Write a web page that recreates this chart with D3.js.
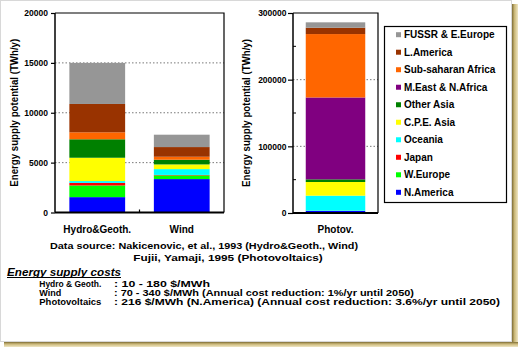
<!DOCTYPE html>
<html><head><meta charset="utf-8">
<script src="https://cdn.jsdelivr.net/npm/d3@7"></script>
<style>
html,body{margin:0;padding:0;background:#fff;}
svg{display:block;font-family:"Liberation Sans",Arial,Helvetica,sans-serif;}
</style></head>
<body><svg id="c" width="520" height="350"></svg>
<script>
const regions = ["N.America","W.Europe","Japan","Oceania","C.P.E. Asia","Other Asia","M.East & N.Africa","Sub-saharan Africa","L.America","FUSSR & E.Europe"];
const colors = ["#0000ff","#00ff00","#ff0000","#00ffff","#ffff00","#008000","#800080","#ff6600","#993300","#969696"];
const leftCats = ["Hydro&Geoth.","Wind"];
const hydro = [1540,1170,260,180,2340,1850,0,700,2840,4120];
const wind = [3350,370,50,580,470,470,0,300,970,1240];
const pvCats = ["Photov."];
const photov = [3000,300,200,22500,20500,4000,122800,95100,9500,8100];
const leftTicks = [0,5000,10000,15000,20000];
const pvTicks = [0,100000,200000,300000];
const pvMinor = [50000,150000,250000];
const yLabel = "Energy supply potential (TWh/y)";
const sourceLines = ["Data source:  Nakicenovic, et al., 1993  (Hydro&Geoth., Wind)","Fujii, Yamaji, 1995 (Photovoltaics)"];
const costTitle = "Energy supply costs";
const costNames = ["Hydro & Geoth.","Wind","Photovoltaics"];
const costVals = [": 10 - 180 $/MWh",": 70 - 340 $/MWh  (Annual cost reduction: 1%/yr until 2050)",": 216 $/MWh (N.America)  (Annual cost reduction: 3.6%/yr until 2050)"];

const svg = d3.select("#c");
const defs = svg.append("defs");
const gv = defs.append("linearGradient").attr("id","gv").attr("x1","0").attr("x2","1").attr("y1","0").attr("y2","0");
gv.append("stop").attr("offset","0").attr("stop-color","#7d6c35");
gv.append("stop").attr("offset","0.4").attr("stop-color","#c9b676");
gv.append("stop").attr("offset","1").attr("stop-color","#efe6c4");
const gh = defs.append("linearGradient").attr("id","gh").attr("x1","0").attr("x2","0").attr("y1","0").attr("y2","1");
gh.append("stop").attr("offset","0").attr("stop-color","#7d6c35");
gh.append("stop").attr("offset","0.4").attr("stop-color","#c9b676");
gh.append("stop").attr("offset","1").attr("stop-color","#efe6c4");

// frame shadow
svg.append("rect").attr("x",512).attr("y",4).attr("width",6).attr("height",343).attr("fill","url(#gv)");
svg.append("rect").attr("x",4).attr("y",342).attr("width",514).attr("height",5).attr("fill","url(#gh)");
svg.append("rect").attr("x",0.5).attr("y",0.5).attr("width",511).attr("height",341).attr("fill","#fff").attr("stroke","#d8d8d8");

function stackData(vals){
  let acc=0; return vals.map((v,i)=>{const d={i,y0:acc,y1:acc+v}; acc+=v; return d;});
}

function drawPanel(opts){
  const {x0,x1,yTop,yBot,domainMax,cats,series,ticks,minor,tickSize,tickPad,labelX} = opts;
  const y = d3.scaleLinear().domain([0,domainMax]).range([yBot,yTop]);
  const x = d3.scaleBand().domain(cats).range([x0,x1]).paddingInner(opts.pi).paddingOuter(opts.po);
  const g = svg.append("g");
  g.selectAll("line.grid").data(ticks.filter(t=>t>0 && t<domainMax)).join("line")
    .attr("x1",x0).attr("x2",x1).attr("y1",d=>y(d)).attr("y2",d=>y(d))
    .attr("stroke","#555").attr("stroke-width",0.8).attr("stroke-dasharray","1.5,2");
  cats.forEach((c,ci)=>{
    g.append("g").selectAll("rect").data(stackData(series[ci]).filter(d=>d.y1>d.y0)).join("rect")
      .attr("x",x(c)).attr("width",x.bandwidth())
      .attr("y",d=>y(d.y1)).attr("height",d=>y(d.y0)-y(d.y1))
      .attr("fill",d=>colors[d.i]);
  });
  g.append("path").attr("d",`M${x0},${yTop}H${x1}V${yBot}`).attr("fill","none").attr("stroke","#000").attr("stroke-width",1.2);
  g.append("line").attr("x1",x0).attr("x2",x1).attr("y1",yBot).attr("y2",yBot).attr("stroke","#000").attr("stroke-width",2);
  const ax = g.append("g").attr("transform",`translate(${x0},0)`)
    .call(d3.axisLeft(y).tickValues(ticks).tickSize(tickSize).tickPadding(tickPad).tickFormat(d3.format("d")));
  ax.select(".domain").attr("stroke-width",1.5).attr("d",`M0,${yTop}V${yBot}`);
  ax.selectAll(".tick line").attr("stroke-width",1.2);
  ax.selectAll("text").attr("font-size",8.5).attr("font-weight","bold").attr("fill","#000").attr("font-family","Liberation Sans, Arial, sans-serif");
  if(minor){
    g.selectAll("line.minor").data(minor).join("line")
      .attr("x1",x0).attr("x2",x0+3).attr("y1",d=>y(d)).attr("y2",d=>y(d)).attr("stroke","#000").attr("stroke-width",1);
  }
  cats.slice(1).forEach(c=>{
    const sx = x(c) - x.step()*x.paddingInner()/2;
    g.append("line").attr("x1",sx).attr("x2",sx).attr("y1",yBot-3).attr("y2",yBot).attr("stroke","#000").attr("stroke-width",1.2);
  });
  g.selectAll("text.cat").data(cats).join("text")
    .attr("x",d=>x(d)+x.bandwidth()/2).attr("y",233).attr("text-anchor","middle")
    .attr("font-size",10).attr("font-weight","bold").text(d=>d);
  g.append("text").attr("transform",`translate(${labelX},${(yTop+yBot)/2}) rotate(-90)`)
    .attr("text-anchor","middle").attr("font-size",10).attr("font-weight","bold")
    .attr("textLength",148).attr("lengthAdjust","spacingAndGlyphs").text(yLabel);
}

drawPanel({x0:55,x1:224,yTop:13,yBot:212.5,domainMax:20000,cats:leftCats,series:[hydro,wind],ticks:leftTicks,minor:null,tickSize:4,tickPad:3,labelX:17.5,pi:0.34,po:0.17});
drawPanel({x0:293,x1:378,yTop:13,yBot:213,domainMax:300000,cats:pvCats,series:[photov],ticks:pvTicks,minor:pvMinor,tickSize:5,tickPad:1.5,labelX:250,pi:0.3,po:0.15});

// legend
const lg = svg.append("g");
lg.append("rect").attr("x",384.5).attr("y",26.5).attr("width",122).attr("height",176).attr("fill","#fff").attr("stroke","#000").attr("stroke-width",1.2);
const order = d3.range(regions.length).reverse();
const ly = d3.scalePoint().domain(order).range([34.7,192.3]);
lg.selectAll("rect.sw").data(order).join("rect").attr("class","sw")
  .attr("x",396).attr("y",d=>ly(d)-2.5).attr("width",5).attr("height",5).attr("fill",d=>colors[d]);
lg.selectAll("text").data(order).join("text")
  .attr("x",404).attr("y",d=>ly(d)+3.5).attr("font-size",10).attr("font-weight","bold").text(d=>regions[d]);

// data source
svg.append("text").attr("x",50).attr("y",249.3).attr("font-size",9.8).attr("font-weight","bold")
  .attr("textLength",308).attr("lengthAdjust","spacingAndGlyphs").text(sourceLines[0]);
svg.append("text").attr("x",133.3).attr("y",260.8).attr("font-size",9.8).attr("font-weight","bold")
  .attr("textLength",189.5).attr("lengthAdjust","spacingAndGlyphs").text(sourceLines[1]);

// costs
svg.append("text").attr("x",7).attr("y",276).attr("font-size",11.5).attr("font-weight","bold").attr("font-style","italic")
  .attr("textLength",114).attr("lengthAdjust","spacingAndGlyphs").text(costTitle);
svg.append("line").attr("x1",7).attr("x2",121).attr("y1",277.5).attr("y2",277.5).attr("stroke","#000").attr("stroke-width",1);
const cy = [286.5,295.8,305.1];
const cnLen = [62,null,62];
svg.selectAll("text.cn").data(costNames).join("text").attr("class","cn")
  .attr("x",39.3).attr("y",(d,i)=>cy[i]).attr("font-size",9).attr("font-weight","bold")
  .each(function(d,i){ if(cnLen[i]) d3.select(this).attr("textLength",cnLen[i]).attr("lengthAdjust","spacingAndGlyphs"); })
  .text(d=>d);
const cvLen = [96,300,386];
svg.selectAll("text.cv").data(costVals).join("text").attr("class","cv")
  .attr("x",114).attr("y",(d,i)=>cy[i]).attr("font-size",9).attr("font-weight","bold")
  .attr("textLength",(d,i)=>cvLen[i]).attr("lengthAdjust","spacingAndGlyphs")
  .text(d=>d);
</script></body></html>
